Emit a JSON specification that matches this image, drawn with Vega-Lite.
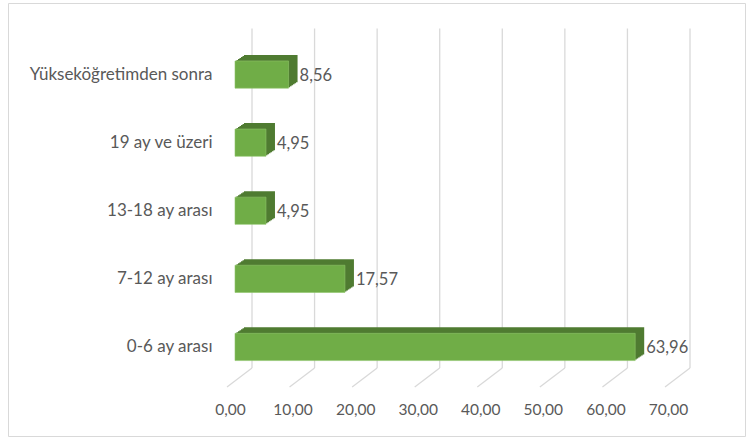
{
  "$schema": "https://vega.github.io/schema/vega-lite/v6.json",
  "width": 737,
  "height": 433,
  "autosize": {"type": "none"},
  "padding": {"left": 8, "top": 3, "right": 10, "bottom": 5},
  "background": "white",
  "config": {
    "view": {"stroke": "#d9d9d9", "strokeWidth": 1},
    "font": "Lato",
    "locale": {"number": {"decimal": ",", "thousands": ".", "grouping": [3], "currency": ["", " TL"]}}
  },
  "datasets": {
    "bars": [
      {"kategori": "Yükseköğretimden sonra", "v": 8.56},
      {"kategori": "19 ay ve üzeri", "v": 4.95},
      {"kategori": "13-18 ay arası", "v": 4.95},
      {"kategori": "7-12 ay arası", "v": 17.57},
      {"kategori": "0-6 ay arası", "v": 63.96}
    ],
    "ticks": [{"v": 0}, {"v": 10}, {"v": 20}, {"v": 30}, {"v": 40}, {"v": 50}, {"v": 60}, {"v": 70}]
  },
  "layer": [
    {
      "data": {"name": "ticks"},
      "mark": {"type": "rule", "color": "#d9d9d9", "strokeWidth": 1.3, "xOffset": 17, "yOffset": -46, "y2Offset": 21},
      "encoding": {
        "x": {"field": "v", "type": "quantitative", "title": null,
              "scale": {"domain": [0, 70], "range": [227, 665], "nice": false, "zero": true},
              "axis": {"title": null, "domain": false, "ticks": false, "grid": false, "format": ".2f",
                       "values": [0, 10, 20, 30, 40, 50, 60, 70], "offset": -34, "labelPadding": 0,
                       "labelOffset": -5, "labelFontSize": 15.5, "labelColor": "#595959",
                       "labelFlush": false, "labelOverlap": false}},
        "y": {"datum": "Yükseköğretimden sonra", "type": "nominal"},
        "y2": {"datum": "0-6 ay arası"}
      }
    },
    {
      "data": {"name": "ticks"},
      "mark": {"type": "rule", "color": "#d9d9d9", "strokeWidth": 1.3, "xOffset": 17, "x2Offset": -8, "yOffset": 21, "y2Offset": 40},
      "encoding": {
        "x": {"field": "v", "type": "quantitative"},
        "x2": {"field": "v"},
        "y": {"datum": "0-6 ay arası", "type": "nominal"},
        "y2": {"datum": "0-6 ay arası"}
      }
    },
    {
      "data": {"name": "bars"},
      "mark": {"type": "bar", "color": "#4f7b31", "xOffset": 1.5, "x2Offset": 1.5, "yOffset": -1, "y2Offset": -1},
      "encoding": {
        "x": {"field": "v", "type": "quantitative"},
        "y": {"field": "kategori", "type": "nominal", "title": null,
              "scale": {"domain": ["Yükseköğretimden sonra", "19 ay ve üzeri", "13-18 ay arası", "7-12 ay arası", "0-6 ay arası"],
                        "range": [37.5, 378], "paddingInner": 0.6, "paddingOuter": 0.3},
              "axis": {"title": null, "domain": false, "ticks": false, "grid": false, "offset": -206,
                       "labelPadding": 2, "labelFontSize": 17, "labelColor": "#595959", "labelLimit": 300}}
      }
    },
    {
      "data": {"name": "bars"},
      "mark": {"type": "bar", "color": "#4f7b31", "xOffset": 3, "x2Offset": 3, "yOffset": -2, "y2Offset": -2},
      "encoding": {
        "x": {"field": "v", "type": "quantitative"},
        "y": {"field": "kategori", "type": "nominal"}
      }
    },
    {
      "data": {"name": "bars"},
      "mark": {"type": "bar", "color": "#4f7b31", "xOffset": 4.5, "x2Offset": 4.5, "yOffset": -3, "y2Offset": -3},
      "encoding": {
        "x": {"field": "v", "type": "quantitative"},
        "y": {"field": "kategori", "type": "nominal"}
      }
    },
    {
      "data": {"name": "bars"},
      "mark": {"type": "bar", "color": "#4f7b31", "xOffset": 6, "x2Offset": 6, "yOffset": -4, "y2Offset": -4},
      "encoding": {
        "x": {"field": "v", "type": "quantitative"},
        "y": {"field": "kategori", "type": "nominal"}
      }
    },
    {
      "data": {"name": "bars"},
      "mark": {"type": "bar", "color": "#4f7b31", "xOffset": 7.5, "x2Offset": 7.5, "yOffset": -5, "y2Offset": -5},
      "encoding": {
        "x": {"field": "v", "type": "quantitative"},
        "y": {"field": "kategori", "type": "nominal"}
      }
    },
    {
      "data": {"name": "bars"},
      "mark": {"type": "bar", "color": "#4f7b31", "xOffset": 9, "x2Offset": 9, "yOffset": -6, "y2Offset": -6},
      "encoding": {
        "x": {"field": "v", "type": "quantitative"},
        "y": {"field": "kategori", "type": "nominal"}
      }
    },
    {
      "data": {"name": "bars"},
      "mark": {"type": "bar", "color": "#70ad47", "stroke": "#8fc46a", "strokeWidth": 0.6},
      "encoding": {
        "x": {"field": "v", "type": "quantitative"},
        "y": {"field": "kategori", "type": "nominal"}
      }
    },
    {
      "data": {"name": "bars"},
      "mark": {"type": "text", "align": "left", "baseline": "middle", "dx": 11, "dy": 1, "fontSize": 16.5, "color": "#595959"},
      "encoding": {
        "x": {"field": "v", "type": "quantitative"},
        "y": {"field": "kategori", "type": "nominal"},
        "text": {"field": "v", "type": "quantitative", "format": ".2f"}
      }
    }
  ]
}
